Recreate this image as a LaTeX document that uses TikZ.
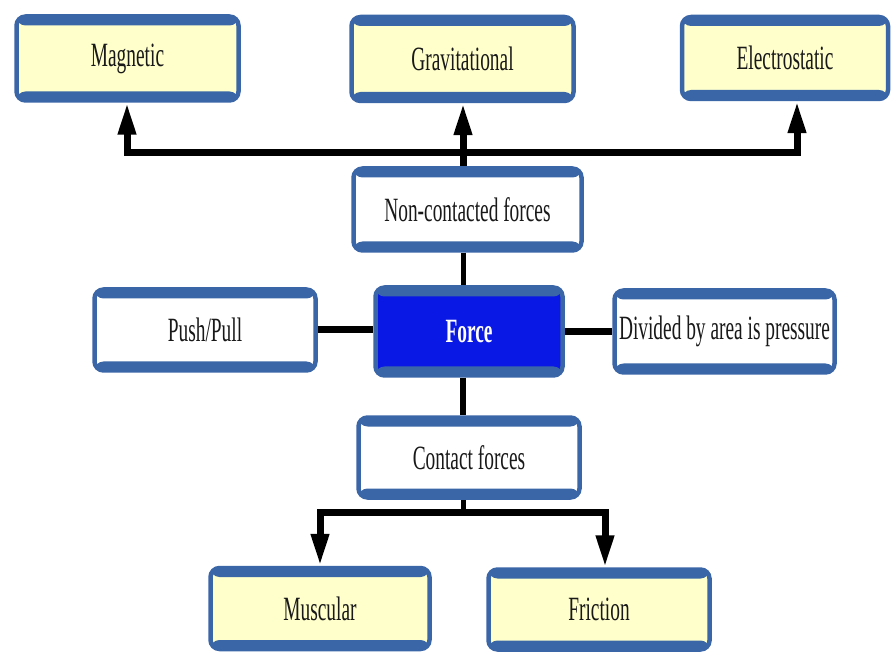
\documentclass[tikz,border=0pt]{standalone}
\usepackage{fontspec}
\setmainfont{Liberation Serif}[FakeStretch=0.57]
\usetikzlibrary{arrows.meta,calc}
\definecolor{boxblue}{HTML}{3A66A8}
\definecolor{leafyellow}{HTML}{FFFFCC}
\definecolor{forceblue}{HTML}{0A18E6}
\tikzset{
  card/.style={draw=boxblue, line width=4.5pt, rounded corners=9pt, fill=white,
    font=\fontsize{34}{36}\selectfont, text=black!90, inner sep=0pt,
    path picture={
      \fill[boxblue] (path picture bounding box.north west) rectangle ([yshift=-9pt]path picture bounding box.north east);
      \fill[boxblue] (path picture bounding box.south west) rectangle ([yshift=9pt]path picture bounding box.south east);
    }},
  leaf/.style={card, fill=leafyellow},
  hub/.style={card, fill=forceblue, text=white},
  link/.style={line width=7pt, draw=black},
  arr/.style={link, -{Triangle[width=17pt,length=32pt]}},
}
\begin{document}
\begin{tikzpicture}[x=1pt,y=-1pt]
\useasboundingbox (0,0) rectangle (892,652);
\node[leaf, minimum width=222pt, minimum height=84pt] (mag) at (127.5,58.5) {Magnetic};
\node[leaf, minimum width=222pt, minimum height=84pt] (grav) at (462.5,59) {Gravitational};
\node[leaf, minimum width=206pt, minimum height=82pt] (elec) at (785,58) {Electrostatic};
\node[card, minimum width=228pt, minimum height=82pt] (nonc) at (467.5,209.5) {Non-contacted forces};
\node[hub, minimum width=187pt, minimum height=88pt] (force) at (469,331.5) {\bfseries Force};
\node[card, minimum width=221pt, minimum height=81pt] (push) at (205,330) {Push/Pull};
\node[card, minimum width=220pt, minimum height=82pt] (div) at (724.5,331.5) {Divided by area is pressure};
\node[card, minimum width=221pt, minimum height=80pt] (cont) at (469,457.5) {Contact forces};
\node[leaf, minimum width=219pt, minimum height=81pt] (musc) at (320,608.5) {Muscular};
\node[leaf, minimum width=221pt, minimum height=80pt] (fric) at (599,609.5) {Friction};
% top bus
\coordinate (tb) at (463,153);
\coordinate (bl) at (127,153);
\coordinate (br) at (797,153);
\draw[arr] (nonc.north -| tb) -- (tb |- grav.south);
\draw[arr] (tb) -- (bl) -- (bl |- mag.south);
\draw[arr] (tb) -- (br) -- (br |- elec.south);
% middle
\draw[line width=5pt] (nonc.south -| tb) -- (force.north -| tb);
\draw[line width=6pt] (force.south -| tb) -- (cont.north -| tb);
\draw[link] (push.east) -- (push.east -| force.west);
\draw[link] (force.east |- div.west) -- (div.west);
% bottom bus
\coordinate (bb) at (463,512);
\coordinate (bl2) at (320,512);
\coordinate (br2) at (605,512);
\draw[line width=5pt] (cont.south -| bb) -- (bb);
\draw[arr] (bb) -- (bl2) -- (bl2 |- musc.north);
\draw[arr] (bb) -- (br2) -- (br2 |- fric.north);
\end{tikzpicture}
\end{document}
